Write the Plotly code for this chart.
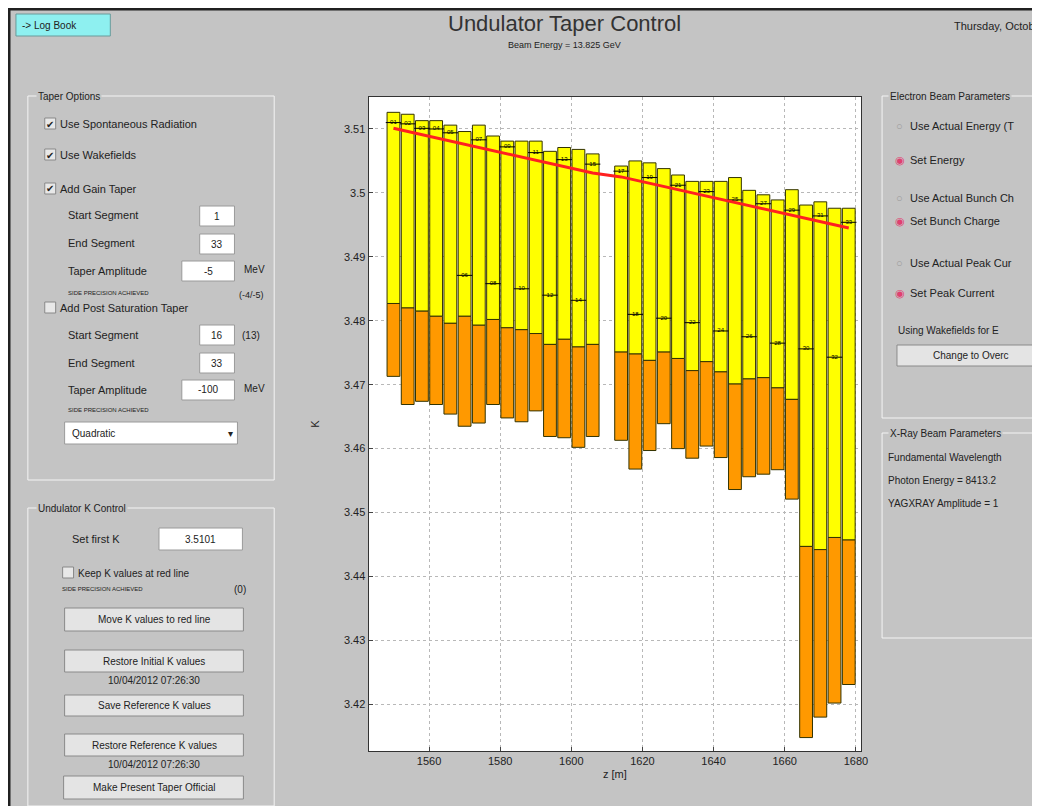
import plotly.graph_objects as go

# segment positions (z, m) and K values
z_pos = [1550, 1554, 1558, 1562, 1566, 1570, 1574, 1578, 1582, 1586,
         1590, 1594, 1598, 1602, 1606,
         1614, 1618, 1622, 1626, 1630, 1634, 1638, 1642, 1646, 1650,
         1654, 1658, 1662, 1666, 1670, 1674, 1678]
k_top = [3.5126, 3.5123, 3.5113, 3.5113, 3.5106, 3.5096, 3.5106, 3.5089, 3.5081, 3.5081,
         3.5081, 3.5065, 3.5071, 3.5068, 3.5061,
         3.5042, 3.5050, 3.5047, 3.5038, 3.5028, 3.5018, 3.5018, 3.5018, 3.5024, 3.5004,
         3.4997, 3.4989, 3.5005, 3.4981, 3.4986, 3.4976, 3.4976]
k_mid = [3.4827, 3.4820, 3.4815, 3.4807, 3.4796, 3.4807, 3.4793, 3.4802, 3.4789, 3.4786,
         3.4780, 3.4763, 3.4771, 3.4759, 3.4763,
         3.4751, 3.4748, 3.4738, 3.4751, 3.4741, 3.4722, 3.4736, 3.4720, 3.4701, 3.4709,
         3.4711, 3.4695, 3.4677, 3.4447, 3.4442, 3.4461, 3.4457]
k_low = [3.4713, 3.4669, 3.4674, 3.4669, 3.4654, 3.4635, 3.4640, 3.4669, 3.4648, 3.4642,
         3.4659, 3.4619, 3.4617, 3.4602, 3.4619,
         3.4613, 3.4568, 3.4597, 3.4639, 3.4600, 3.4585, 3.4604, 3.4586, 3.4536, 3.4556,
         3.4560, 3.4567, 3.4521, 3.4148, 3.4180, 3.4202, 3.4231]
k_now = [3.5110, 3.5108, 3.5101, 3.5100, 3.5094, 3.4871, 3.5083, 3.4858, 3.5072, 3.4850,
         3.5063, 3.4840, 3.5052, 3.4832, 3.5045,
         3.5034, 3.4810, 3.5024, 3.4804, 3.5012, 3.4797, 3.5002, 3.4784, 3.4989, 3.4775,
         3.4983, 3.4765, 3.4973, 3.4756, 3.4964, 3.4743, 3.4954]
seg_labels = ["01", "02", "03", "04", "05", "06", "07", "08", "09", "10", "11", "12", "13",
              "14", "15", "17", "18", "19", "20", "21", "22", "23", "24", "25", "26", "27",
              "28", "29", "30", "31", "32", "33"]
k_red = [3.5101, 3.5096, 3.5091, 3.5086, 3.5081, 3.5076, 3.5071, 3.5066, 3.5061, 3.5056,
         3.5051, 3.5046, 3.5041, 3.5036, 3.5031,
         3.5025, 3.5020, 3.5015, 3.5010, 3.5005, 3.5000, 3.4995, 3.4990, 3.4985, 3.4980,
         3.4975, 3.4970, 3.4965, 3.4960, 3.4955, 3.4950, 3.4945]

W, H = 1040, 806
def px(x): return x / W
def py(y): return 1 - y / H

fig = go.Figure()
fig.add_trace(go.Bar(x=z_pos, y=[t - m for t, m in zip(k_top, k_mid)], base=k_mid, width=3.6,
                     marker=dict(color="#ffff00", line=dict(color="#333300", width=1))))
fig.add_trace(go.Bar(x=z_pos, y=[m - l for m, l in zip(k_mid, k_low)], base=k_low, width=3.6,
                     marker=dict(color="#ff9900", line=dict(color="#333300", width=1))))
fig.add_trace(go.Scatter(x=z_pos, y=k_now, mode="markers+text", text=seg_labels,
                         textposition="middle center", textfont=dict(size=6, color="black"),
                         marker=dict(symbol="line-ew", size=11, line=dict(color="black", width=1))))
fig.add_trace(go.Scatter(x=z_pos, y=k_red, mode="lines", line=dict(color="#ff2020", width=3)))

shapes = []
ann = []
def box(x0, y0, x1, y1, fill=None, line="#f4f4f4", lw=1):
    shapes.append(dict(type="rect", xref="paper", yref="paper", x0=px(x0), x1=px(x1),
                       y0=py(y1), y1=py(y0), line=dict(color=line, width=lw),
                       fillcolor=fill if fill else "rgba(0,0,0,0)", layer="below"))
def txt(x, y, s, size=11, anchor="left", color="#222", bg=None):
    ann.append(dict(x=px(x), y=py(y), xref="paper", yref="paper", text=s, showarrow=False,
                    xanchor=anchor, yanchor="middle", font=dict(size=size, color=color),
                    bgcolor=bg))
def button(x0, y0, x1, y1, s):
    box(x0, y0, x1, y1, fill="#e4e4e4", line="#8a8a8a")
    txt((x0 + x1) / 2, (y0 + y1) / 2, s, size=10, anchor="center")
def field(x0, y0, x1, y1, s):
    box(x0, y0, x1, y1, fill="white", line="#9a9a9a")
    txt((x0 + x1) / 2, (y0 + y1) / 2, s, size=10, anchor="center")

# window frame
box(1, 1, 1039, 805, line="#202020", lw=3)
box(8, 6, 103, 28, fill="#8ef0f0", line="#6a9a9a")
txt(12, 17, "-> Log Book", size=10)
txt(560, 16, "Undulator Taper Control", size=22, anchor="center", color="#333")
txt(560, 37, "Beam Energy = 13.825 GeV", size=9, anchor="center")
txt(1036, 18, "Thursday, Octob", size=11, anchor="right")

# taper options panel
box(20, 88, 268, 472)
txt(28, 88, "Taper Options", size=10, bg="#c4c4c4")
for yy, s, on in [(116, "Use Spontaneous Radiation", True), (147, "Use Wakefields", True),
                  (181, "Add Gain Taper", True), (300, "Add Post Saturation Taper", False)]:
    box(37, yy - 6, 48, yy + 5, fill="#e8e8e8", line="#888")
    if on:
        txt(42, yy, "✔", size=10, anchor="center")
    txt(50, yy, s, size=11)
txt(58, 207, "Start Segment"); field(193, 198, 228, 218, "1")
txt(58, 235, "End Segment"); field(193, 226, 228, 246, "33")
txt(58, 263, "Taper Amplitude"); field(175, 253, 228, 273, "-5"); txt(236, 261, "MeV", size=10)
txt(58, 285, "SIDE PRECISION ACHIEVED", size=6); txt(260, 287, "(-4/-5)", size=9, anchor="right")
txt(58, 327, "Start Segment"); field(193, 317, 228, 337, "16"); txt(234, 327, "(13)", size=10)
txt(58, 355, "End Segment"); field(193, 345, 228, 365, "33")
txt(58, 382, "Taper Amplitude"); field(175, 372, 228, 392, "-100"); txt(236, 380, "MeV", size=10)
txt(58, 402, "SIDE PRECISION ACHIEVED", size=6)
box(57, 414, 231, 436, fill="white", line="#9a9a9a")
txt(62, 425, "Quadratic", size=10); txt(224, 425, "▾", size=10, anchor="center")

# undulator K control panel
box(20, 500, 268, 798)
txt(28, 500, "Undulator K Control", size=10, bg="#c4c4c4")
txt(62, 531, "Set first K"); field(152, 520, 236, 542, "3.5101")
box(55, 559, 66, 570, fill="#e8e8e8", line="#888")
txt(68, 565, "Keep K values at red line", size=10)
txt(52, 581, "SIDE PRECISION ACHIEVED", size=6); txt(242, 581, "(0)", size=10, anchor="right")
button(57, 600, 237, 623, "Move K values to red line")
button(57, 642, 237, 664, "Restore Initial K values")
txt(147, 672, "10/04/2012 07:26:30", size=10, anchor="center")
button(57, 687, 237, 708, "Save Reference K values")
button(57, 726, 237, 748, "Restore Reference K values")
txt(147, 756, "10/04/2012 07:26:30", size=10, anchor="center")
button(56, 768, 237, 791, "Make Present Taper Official")

# electron beam panel
box(880, 88, 1045, 410)
txt(886, 88, "Electron Beam Parameters", size=10, bg="#c4c4c4")
for yy, s, on in [(118, "Use Actual Energy (T", False), (152, "Set Energy", True),
                  (190, "Use Actual Bunch Ch", False), (213, "Set Bunch Charge", True),
                  (255, "Use Actual Peak Cur", False), (285, "Set Peak Current", True)]:
    txt(898, yy, "◉" if on else "○", size=11, anchor="center",
        color="#e04070" if on else "#999")
    txt(906, yy, s, size=11)
txt(894, 323, "Using Wakefields for E", size=10)
button(895, 337, 1045, 358, "Change to Overc")
box(880, 425, 1045, 630)
txt(886, 425, "X-Ray Beam Parameters", size=10, bg="#c4c4c4")
txt(884, 449, "Fundamental Wavelength", size=10)
txt(884, 472, "Photon Energy = 8413.2", size=10)
txt(884, 495, "YAGXRAY Amplitude = 1", size=10)

fig.update_layout(
    width=W, height=H, margin=dict(l=0, r=0, t=0, b=0),
    paper_bgcolor="#c4c4c4", plot_bgcolor="white",
    barmode="overlay", showlegend=False,
    font=dict(family="Liberation Sans, Arial", color="#222"),
    shapes=shapes, annotations=ann,
    xaxis=dict(domain=[px(363), px(859)], range=[1543, 1681.5], tickvals=[1560, 1580, 1600, 1620, 1640, 1660, 1680],
               showgrid=True, gridcolor="#b8b8b8", griddash="dot", ticks="inside", ticklen=4,
               showline=True, linecolor="#333", mirror=True, zeroline=False,
               title=dict(text="z [m]", standoff=4, font=dict(size=11)), tickfont=dict(size=11)),
    yaxis=dict(domain=[py(743), py(89)], range=[3.4127, 3.5150], tickvals=[3.42, 3.43, 3.44, 3.45, 3.46, 3.47, 3.48, 3.49, 3.5, 3.51],
               ticktext=["3.42", "3.43", "3.44", "3.45", "3.46", "3.47", "3.48", "3.49", "3.5", "3.51"],
               showgrid=True, gridcolor="#b8b8b8", griddash="dot", ticks="inside", ticklen=4,
               showline=True, linecolor="#333", mirror=True, zeroline=False,
               title=dict(text="K", standoff=22, font=dict(size=11)), tickfont=dict(size=11)),
)
fig.write_html("out.html")
